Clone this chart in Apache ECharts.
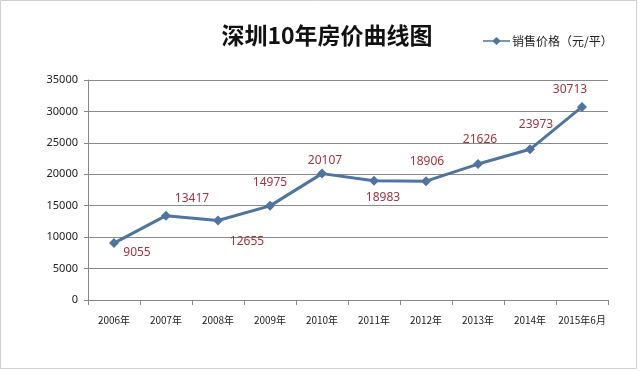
<!DOCTYPE html>
<html><head><meta charset="utf-8">
<script src="https://cdn.jsdelivr.net/npm/echarts@6/dist/echarts.min.js"></script>
<style>html,body{margin:0;padding:0;background:#fff}#c{width:643px;height:371px}</style>
</head><body><div id="c"></div>
<script>
var categories = ['2006年','2007年','2008年','2009年','2010年','2011年','2012年','2013年','2014年','2015年6月'];
var prices = [9055, 13417, 12655, 14975, 20107, 18983, 18906, 21626, 23973, 30713];
var yTicks = [0, 5000, 10000, 15000, 20000, 25000, 30000, 35000];
var seriesName = '销售价格（元/平）';
var titleText = '深圳10年房价曲线图';
// label offsets (styling only)
var labelOffsets = [[23,9],[26,-17],[29,21],[0,-23],[3,-13],[9,17],[1,-20],[2,-24],[6,-25],[-12,-17]];

var chart = echarts.init(document.getElementById('c'));
chart.setOption({
  backgroundColor: '#fff',
  animation: false,
  title: {text: titleText, left: 322, top: 19, textAlign: 'center',
    textStyle: {fontFamily: 'Noto Sans CJK SC', fontWeight: 'bold', fontSize: 23, color: '#111'}},
  legend: {data: [{name: seriesName, icon: 'path://M0,3.2 L10,3.2 L13.5,0 L17,3.2 L27,3.2 L27,4.8 L17,4.8 L13.5,8 L10,4.8 L0,4.8 Z'}],
    left: 478, top: 30, itemWidth: 27, itemHeight: 8, itemGap: 2,
    textStyle: {fontFamily: 'Noto Sans CJK SC', fontSize: 12, color: '#222', padding: [0,0,0,-3]}},
  grid: {left: 88, right: 35, top: 80, bottom: 71},
  xAxis: {type: 'category', data: categories, boundaryGap: true,
    axisLine: {lineStyle: {color: '#888'}},
    axisTick: {show: true, length: 5, lineStyle: {color: '#888'}},
    axisLabel: {color: '#222', fontSize: 10, margin: 15, fontFamily: 'Noto Sans CJK SC', interval: 0}},
  yAxis: {type: 'value', min: yTicks[0], max: yTicks[yTicks.length-1], interval: 5000,
    axisLine: {show: true, lineStyle: {color: '#888'}},
    axisTick: {show: true, length: 4, lineStyle: {color: '#888'}},
    splitLine: {lineStyle: {color: '#8a8a8a', width: 1}},
    axisLabel: {color: '#222', fontSize: 11, margin: 10, fontFamily: 'Noto Sans',
      formatter: function(v){ return String(v); }}},
  series: [{
    name: seriesName, type: 'line',
    data: prices.map(function(v, i){ return {value: v, label: {offset: labelOffsets[i]}}; }),
    symbol: 'diamond', symbolSize: 10,
    lineStyle: {color: '#4f74a0', width: 3},
    itemStyle: {color: '#4f74a0'},
    label: {show: true, position: 'inside', color: '#a3333d', fontSize: 12, fontFamily: 'Noto Sans'}
  }],
  graphic: [{type: 'rect', shape: {x: 0.5, y: 0.5, width: 636, height: 368}, style: {fill: 'none', stroke: '#d0d0d0', lineWidth: 1}, silent: true}]
});
</script></body></html>
